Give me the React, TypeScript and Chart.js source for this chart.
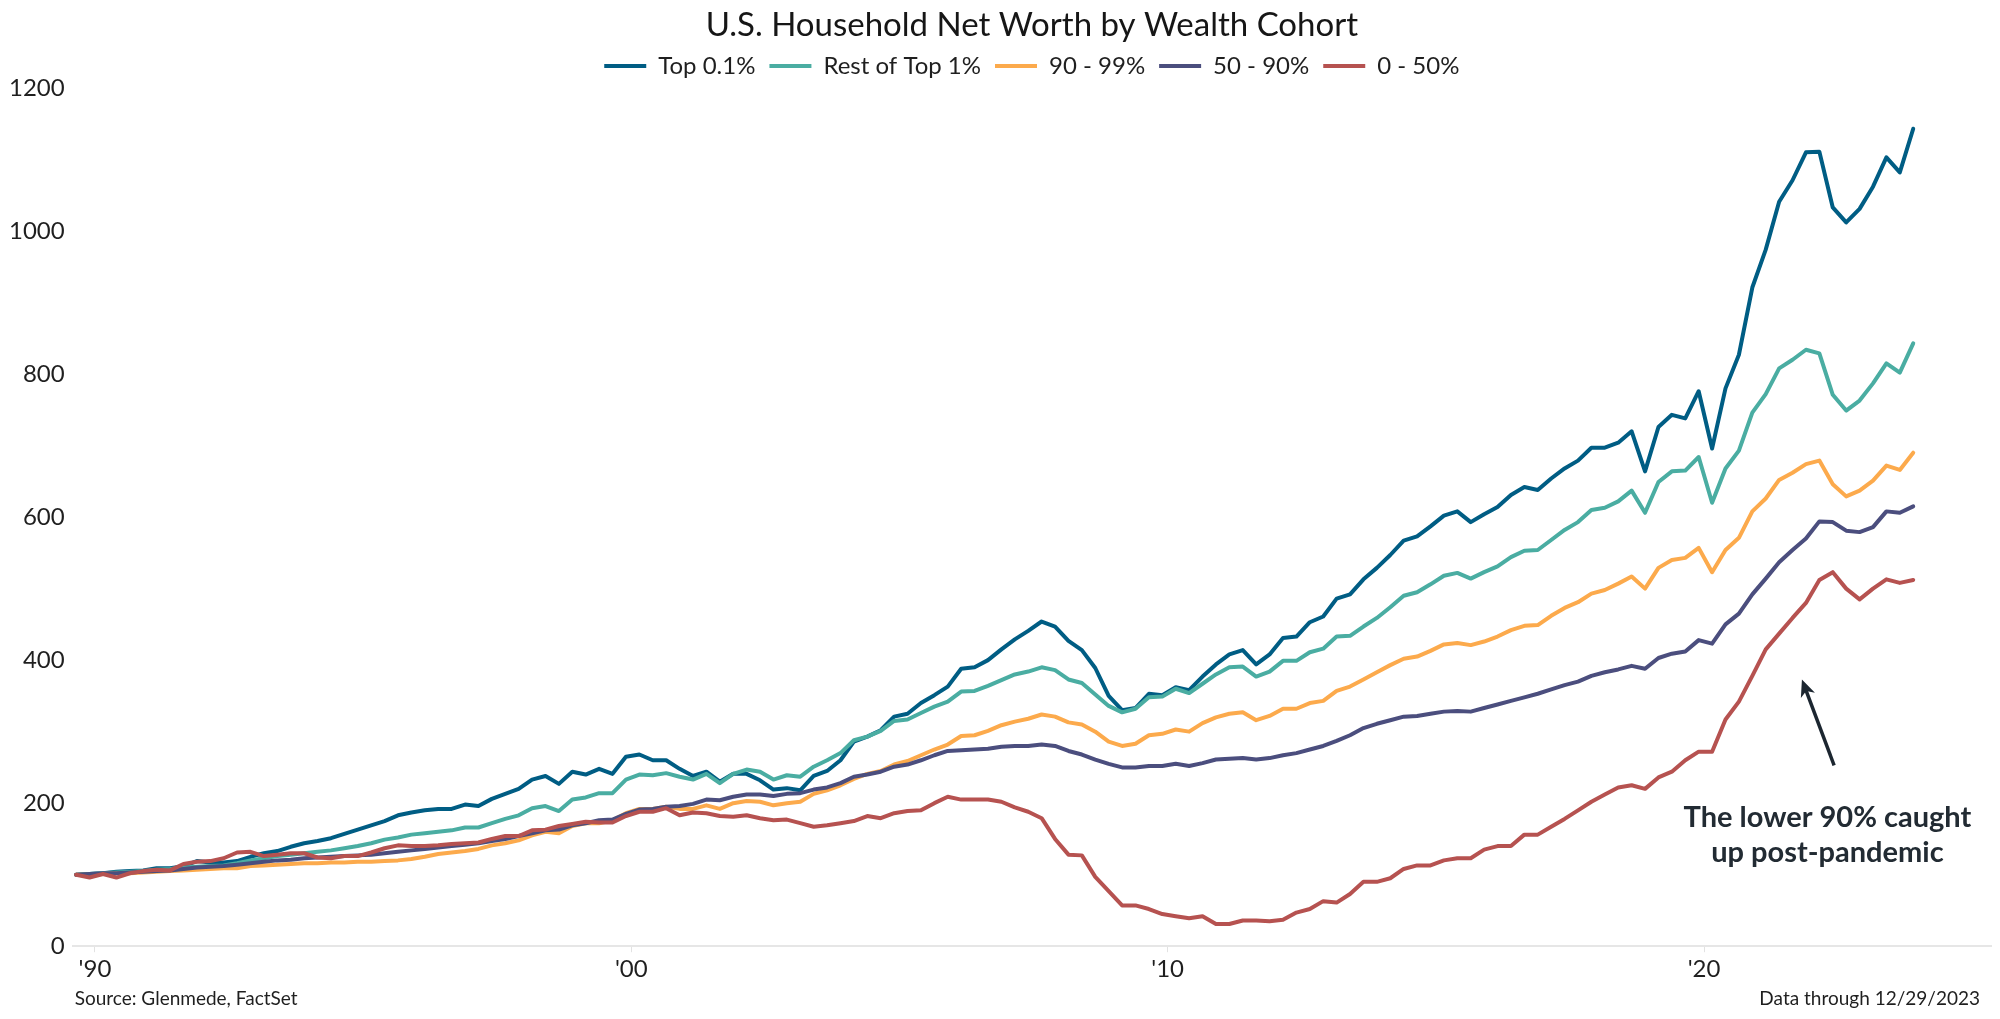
import React, { useEffect, useRef } from 'react';
import { Chart, registerables } from 'chart.js';

Chart.register(...registerables);

const FONT = 'Lato, "Open Sans", "DejaVu Sans", sans-serif';

// Quarterly index values (1989Q3 = 100)
const top01 = [
  100, 101, 102, 104, 105, 106, 109, 109, 112, 119,
  117, 117, 119, 125, 130, 133, 139, 144, 147, 151,
  157, 163, 169, 175, 183, 187, 190, 192, 192, 198,
  196, 206, 213, 220, 233, 238, 227, 244, 240, 248,
  241, 265, 268, 260, 260, 248, 238, 244, 230, 241,
  241, 232, 219, 221, 218, 238, 245, 260, 286, 293,
  302, 321, 325, 340, 351, 363, 388, 390, 400, 415,
  429, 441, 454, 447, 427, 414, 389, 350, 330, 333,
  353, 351, 362, 358, 377, 394, 408, 414, 394, 408,
  431, 433, 453, 461, 486, 492, 513, 529, 547, 567,
  573, 587, 602, 608, 593, 604, 614, 631, 642, 638,
  654, 668, 679, 697, 697, 704, 720, 664, 726, 743,
  738, 776, 696, 780, 827, 921, 974, 1041, 1071, 1110,
  1111, 1033, 1012, 1031, 1062, 1103, 1082, 1143,
];

const restTop1 = [
  100, 101, 102, 103, 104, 105, 107, 108, 110, 111,
  112, 113, 116, 120, 123, 126, 128, 130, 132, 134,
  137, 140, 144, 149, 152, 156, 158, 160, 162, 166,
  166, 172, 178, 183, 193, 196, 189, 205, 208, 214,
  214, 233, 240, 239, 242, 237, 233, 241, 228, 241,
  247, 244, 233, 239, 237, 251, 260, 270, 288, 293,
  301, 315, 317, 326, 335, 342, 356, 357, 364, 372,
  380, 384, 390, 386, 373, 368, 352, 336, 327, 332,
  348, 349, 360, 354, 367, 380, 390, 391, 377, 384,
  399, 399, 411, 416, 433, 434, 447, 459, 474, 490,
  495, 506, 518, 522, 514, 523, 531, 544, 553, 554,
  568, 582, 593, 610, 613, 622, 637, 606, 649, 664,
  665, 684, 620, 668, 693, 746, 772, 808, 820, 834,
  829, 771, 749, 763, 787, 815, 802, 843,
];

const p90to99 = [
  100, 100, 101, 102, 102, 103, 104, 105, 106, 107,
  108, 109, 109, 112, 113, 114, 115, 116, 116, 117,
  117, 118, 118, 119, 120, 122, 125, 129, 131, 133,
  136, 141, 144, 148, 155, 160, 158, 168, 172, 172,
  176, 186, 192, 192, 195, 192, 192, 197, 192, 200,
  203, 202, 197, 200, 202, 213, 218, 225, 234, 241,
  245, 254, 259, 267, 275, 282, 294, 295, 301, 309,
  314, 318, 324, 321, 313, 310, 300, 286, 280, 283,
  295, 297, 303, 300, 312, 320, 325, 327, 316, 322,
  332, 332, 340, 343, 357, 363, 373, 383, 393, 402,
  405, 413, 422, 424, 421, 426, 433, 442, 448, 449,
  462, 473, 481, 493, 498, 507, 517, 500, 529, 540,
  543, 557, 523, 554, 571, 608, 626, 652, 662, 674,
  679, 646, 629, 637, 651, 672, 666, 690,
];

const p50to90 = [
  100, 101, 102, 102, 103, 104, 105, 106, 108, 110,
  111, 112, 114, 116, 118, 120, 121, 123, 124, 125,
  126, 127, 128, 130, 132, 134, 136, 138, 140, 142,
  144, 147, 150, 154, 158, 162, 163, 169, 172, 176,
  177, 185, 191, 192, 195, 196, 199, 205, 204, 209,
  212, 212, 210, 213, 214, 219, 222, 228, 237, 240,
  244, 251, 254, 260, 267, 273, 274, 275, 276, 279,
  280, 280, 282, 280, 273, 268, 261, 255, 250, 250,
  252, 252, 255, 252, 256, 261, 262, 263, 261, 263,
  267, 270, 275, 280, 287, 295, 305, 311, 316, 321,
  322, 325, 328, 329, 328, 333, 338, 343, 348, 353,
  359, 365, 370, 378, 383, 387, 392, 388, 403, 409,
  412, 428, 423, 450, 465, 492, 514, 537, 554, 570,
  594, 593, 581, 579, 586, 608, 606, 615,
];

const p0to50 = [
  100, 96, 101, 96, 102, 105, 107, 106, 115, 118,
  119, 123, 131, 132, 126, 128, 130, 130, 124, 123,
  126, 126, 131, 137, 141, 140, 140, 141, 143, 144,
  145, 150, 154, 154, 162, 163, 168, 171, 174, 173,
  173, 182, 188, 188, 193, 183, 187, 186, 182, 181,
  183, 179, 176, 177, 172, 167, 169, 172, 175, 182,
  179, 186, 189, 190, 200, 209, 205, 205, 205, 202,
  194, 188, 179, 150, 128, 127, 97, 77, 57, 57,
  52, 45, 42, 39, 42, 31, 31, 36, 36, 35,
  37, 47, 52, 63, 61, 73, 90, 90, 95, 108,
  113, 113, 120, 123, 123, 135, 140, 140, 156, 156,
  167, 178, 190, 202, 212, 222, 225, 220, 236, 244,
  260, 272, 272, 317, 342, 378, 415, 437, 459, 480,
  512, 523, 500, 485, 500, 513, 508, 512,
];

const seriesNames = ['Top 0.1%', 'Rest of Top 1%', '90 - 99%', '50 - 90%', '0 - 50%'];
const seriesColors = ['#005d84', '#4aada2', '#fcaa4c', '#4b4e7e', '#b65250'];
const seriesValues = [top01, restTop1, p90to99, p50to90, p0to50];

// Category labels: quarters starting 1989Q3
const startYear = 1989;
const startQuarter = 3;
const quarters = top01.map((_, i) => {
  const q = startQuarter - 1 + i;
  return `${startYear + Math.floor(q / 4)}Q${(q % 4) + 1}`;
});

const xTickIndex = [1.4, 41.4, 81.4, 121.4];
const xTickLabels = ["'90", "'00", "'10", "'20"];
const yTickValues = [0, 200, 400, 600, 800, 1000, 1200];

const titleText = 'U.S. Household Net Worth by Wealth Cohort';
const sourceText = 'Source: Glenmede, FactSet';
const dataThroughText = 'Data through 12/29/2023';
const annotationLines = ['The lower 90% caught', 'up post-pandemic'];
const annotationLineAt = [
  { x: 130.6, y: 180 },
  { x: 130.6, y: 131 },
];
const arrowFrom = { x: 131.1, y: 253 };
const arrowTo = { x: 128.7, y: 373 };

const overlayPlugin = {
  id: 'overlay',
  afterDatasetsDraw(chart: any) {
    const { ctx } = chart;
    const xs = chart.scales.x;
    const ys = chart.scales.y;
    const x1 = xs.getPixelForValue(arrowFrom.x);
    const y1 = ys.getPixelForValue(arrowFrom.y);
    const x2 = xs.getPixelForValue(arrowTo.x);
    const y2 = ys.getPixelForValue(arrowTo.y);
    const ang = Math.atan2(y2 - y1, x2 - x1);
    const c = Math.cos(ang);
    const s = Math.sin(ang);
    const head = 17;
    const hw = 7.5;
    ctx.save();
    ctx.strokeStyle = '#1c2630';
    ctx.fillStyle = '#1c2630';
    ctx.lineWidth = 3.5;
    ctx.lineCap = 'butt';
    ctx.beginPath();
    ctx.moveTo(x1, y1);
    ctx.lineTo(x2 - c * head * 0.7, y2 - s * head * 0.7);
    ctx.stroke();
    ctx.beginPath();
    ctx.moveTo(x2, y2);
    ctx.lineTo(x2 - c * head - s * hw, y2 - s * head + c * hw);
    ctx.lineTo(x2 - c * head * 0.72, y2 - s * head * 0.72);
    ctx.lineTo(x2 - c * head + s * hw, y2 - s * head - c * hw);
    ctx.closePath();
    ctx.fill();

    ctx.font = `bold 29px ${FONT}`;
    ctx.fillStyle = '#222b33';
    ctx.textAlign = 'center';
    ctx.textBaseline = 'middle';
    annotationLines.forEach((t, k) => {
      ctx.fillText(t, xs.getPixelForValue(annotationLineAt[k].x), ys.getPixelForValue(annotationLineAt[k].y));
    });
    ctx.restore();
  },
  afterDraw(chart: any) {
    const { ctx, chartArea } = chart;
    ctx.save();
    ctx.font = `19px ${FONT}`;
    ctx.fillStyle = '#1f1f1f';
    ctx.textBaseline = 'middle';
    ctx.textAlign = 'left';
    ctx.fillText(sourceText, chartArea.left + 2, chart.height - 20);
    ctx.textAlign = 'right';
    ctx.fillText(dataThroughText, chartArea.right - 11, chart.height - 20);
    ctx.restore();
  },
};

export default function App() {
  const canvasRef = useRef<HTMLCanvasElement | null>(null);

  useEffect(() => {
    if (!canvasRef.current) return;
    const datasets = seriesValues.map((vals, k) => ({
      label: seriesNames[k],
      data: vals.map((v, i) => ({ x: i, y: v })),
      borderColor: seriesColors[k],
      backgroundColor: seriesColors[k],
      borderWidth: 4,
      pointRadius: 0,
      pointHoverRadius: 0,
      pointStyle: 'line',
      tension: 0,
      fill: false,
      borderJoinStyle: 'round' as const,
      borderCapStyle: 'round' as const,
      order: seriesValues.length - 1 - k,
    }));

    const chart = new Chart(canvasRef.current, {
      type: 'line',
      data: { labels: quarters, datasets },
      plugins: [overlayPlugin],
      options: {
        animation: false,
        responsive: true,
        maintainAspectRatio: false,
        layout: { padding: { left: 1, right: 9, top: 0, bottom: 32 } },
        plugins: {
          title: {
            display: true,
            text: titleText,
            fullSize: false,
            color: '#161616',
            font: { family: FONT, size: 33, weight: 'normal', lineHeight: 1.0 },
            padding: { top: 9, bottom: -2 },
          },
          legend: {
            display: true,
            position: 'top',
            fullSize: false,
            labels: {
              usePointStyle: true,
              pointStyle: 'line',
              pointStyleWidth: 42,
              boxWidth: 42,
              padding: 14,
              color: '#1f1f1f',
              font: { family: FONT, size: 24 },
              sort: (a: any, b: any) => a.datasetIndex - b.datasetIndex,
            },
          },
          tooltip: { enabled: false },
        },
        scales: {
          x: {
            type: 'linear',
            min: -0.26,
            max: 142.8,
            afterBuildTicks: (scale: any) => {
              scale.ticks = xTickIndex.map((v) => ({ value: v }));
            },
            ticks: {
              autoSkip: false,
              maxRotation: 0,
              padding: 3,
              color: '#1f1f1f',
              font: { family: FONT, size: 24 },
              callback: (value: any) => {
                const k = xTickIndex.indexOf(Number(value));
                return k >= 0 ? xTickLabels[k] : '';
              },
            },
            grid: {
              display: true,
              drawOnChartArea: false,
              drawTicks: true,
              tickLength: 6,
              color: '#e2e2e2',
              lineWidth: 1,
            },
            border: { display: true, color: '#e6e6e6', width: 2 },
          },
          y: {
            type: 'linear',
            min: 0,
            max: 1200,
            afterBuildTicks: (scale: any) => {
              scale.ticks = yTickValues.map((v) => ({ value: v }));
            },
            ticks: {
              padding: 8,
              color: '#1f1f1f',
              font: { family: FONT, size: 24 },
              callback: (value: any) => String(value),
            },
            grid: { display: false, drawTicks: false },
            border: { display: false },
          },
        },
      },
    });
    return () => chart.destroy();
  }, []);

  return (
    <div style={{ position: 'fixed', left: 0, top: 0, width: 2000, height: 1019, background: '#ffffff' }}>
      <canvas ref={canvasRef} />
    </div>
  );
}
